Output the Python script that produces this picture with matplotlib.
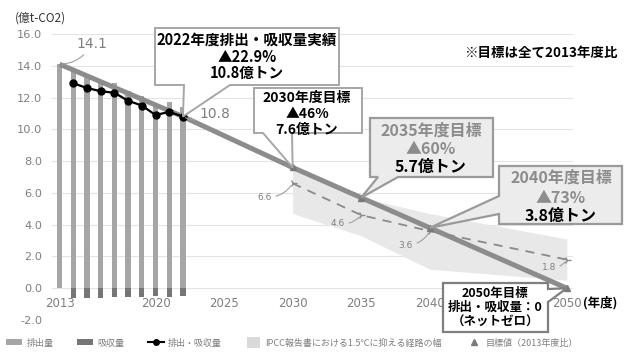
import matplotlib
matplotlib.use('Agg')
import matplotlib.pyplot as plt
import matplotlib.patches as mpatches
from matplotlib.lines import Line2D
from matplotlib.legend_handler import HandlerPatch

JP = ['Noto Sans CJK JP', 'DejaVu Sans']
W, H = 632, 358

# ---- data ----
years = [2013, 2014, 2015, 2016, 2017, 2018, 2019, 2020, 2021, 2022]
emissions = [14.1, 13.6, 13.3, 13.0, 12.9, 12.4, 12.1, 11.5, 11.7, 11.4]
removal_years = [2014, 2015, 2016, 2017, 2018, 2019, 2020, 2021, 2022]
removals = [-0.62, -0.61, -0.60, -0.58, -0.56, -0.56, -0.52, -0.54, -0.50]
net = [12.9, 12.6, 12.4, 12.3, 11.8, 11.5, 10.9, 11.1, 10.8]

path_years = [2013, 2022, 2030, 2035, 2040, 2050]
path_values = [14.1, 10.8, 7.6, 5.7, 3.8, 0.0]
target_years = [2030, 2035, 2040, 2050]
target_values = [7.6, 5.7, 3.8, 0.0]

ipcc_years = [2030, 2035, 2040, 2050]
ipcc_upper = [7.6, 5.7, 4.7, 3.1]
ipcc_lower = [4.7, 3.3, 1.2, 0.5]
ipcc_mid = [6.6, 4.6, 3.6, 1.8]

xticks = [2013, 2020, 2025, 2030, 2035, 2040, 2050]
yticks = [-2, 0, 2, 4, 6, 8, 10, 12, 14, 16]

c_emis = '#a6a6a6'
c_rem = '#767676'
c_path = '#8c8c8c'
c_band = '#e8e8e8'
c_txt = '#7f7f7f'

fig = plt.figure(figsize=(6.32, 3.58), dpi=100)
ax = fig.add_axes([52 / W, 38 / H, 521 / W, 286 / H])

ax.fill_between(ipcc_years, ipcc_lower, ipcc_upper, color=c_band, lw=0, zorder=1)
ax.bar(years, emissions, width=0.38, color=c_emis, zorder=2)
ax.bar(removal_years, removals, width=0.38, color=c_rem, zorder=2)
ax.plot(path_years, path_values, color=c_path, lw=3.6, zorder=3, solid_capstyle='butt')
ax.plot(ipcc_years, ipcc_mid, color='#8a8a8a', lw=1.3, ls=(0, (5, 4)), zorder=3,
        marker='4', ms=6, mew=1.0)
ax.plot(target_years, target_values, ls='none', marker='^', color='#7a7a7a', ms=5, zorder=4)
ax.plot(removal_years, net, color='black', lw=1.6, marker='o', ms=5, zorder=5)

ax.set_xlim(2012.45, 2050.45)
ax.set_ylim(-2, 16)
ax.set_xticks(xticks)
ax.set_yticks(yticks)
ax.set_yticklabels(['%.1f' % v for v in yticks])
for s in ['top', 'right', 'left']:
    ax.spines[s].set_visible(False)
ax.spines['bottom'].set_position(('data', 0))
ax.spines['bottom'].set_visible(False)
ax.yaxis.grid(True, color='#e4e4e4', lw=0.8)
ax.set_axisbelow(True)
ax.tick_params(axis='y', length=0, pad=7, labelsize=8.2, labelcolor=c_txt)
ax.tick_params(axis='x', length=0, pad=6, labelsize=8.5, labelcolor=c_txt)

# value labels with leader lines
def leader(txt, xy, pos, size, rad, ha='left'):
    ax.annotate(txt, xy=xy, xytext=(pos[0], H - pos[1]), textcoords='figure pixels',
                ha=ha, va='center', fontsize=size, color=c_txt,
                arrowprops=dict(arrowstyle='-', color='#a0a0a0', lw=0.8,
                                connectionstyle='arc3,rad=%s' % rad, shrinkA=1, shrinkB=2),
                annotation_clip=False, zorder=6)

leader('14.1', (2013, 14.1), (76, 44), 10, -0.3)
leader('10.8', (2022, 10.8), (199, 114), 10, -0.3)
leader('6.6', (2030, 6.6), (272, 197), 6.5, 0.3, ha='right')
leader('4.6', (2035, 4.6), (345, 223), 6.5, 0.3, ha='right')
leader('3.6', (2040, 3.6), (413, 245), 6.5, 0.3, ha='right')
leader('1.8', (2050, 1.8), (556, 268), 6.5, 0.3, ha='right')

# callout boxes (image pixel coords, y down)
def callout(box, side, base, tip, fc, ec, lw, cx, lines, ys, colors, size):
    x0, y0, x1, y1 = box
    tx, ty = ax.transData.transform(tip)
    tip_px = (tx, H - ty)
    tl, tr, br, bl = (x0, y0), (x1, y0), (x1, y1), (x0, y1)
    b1, b2 = base
    if side == 'bottom':
        verts = [tl, tr, br, b2, tip_px, b1, bl]
    elif side == 'left':
        verts = [tl, tr, br, bl, b2, tip_px, b1]
    else:
        verts = [tl, tr, b1, tip_px, b2, br, bl]
    verts = [(x / W, 1 - y / H) for x, y in verts]
    fig.add_artist(mpatches.Polygon(verts, closed=True, fc=fc, ec=ec, lw=lw,
                                    transform=fig.transFigure, zorder=5, joinstyle='miter'))
    for t, y, c in zip(lines, ys, colors):
        fig.text(cx / W, 1 - y / H, t, ha='center', va='center', fontsize=size,
                 fontweight='bold', color=c, family=JP, zorder=6)

callout((155, 28, 339, 85), 'bottom', ((184, 85), (230, 85)), (2022, 10.8),
        'white', '#a6a6a6', 1.4, 247,
        ['2022年度排出・吸収量実績', '▲22.9%', '10.8億トン'], [40, 57, 73],
        ['black'] * 3, 10.5)
callout((254, 88, 362, 133), 'bottom', ((263, 133), (292, 133)), (2030, 7.6),
        'white', '#a6a6a6', 1.4, 307,
        ['2030年度目標', '▲46%', '7.6億トン'], [98, 114, 130],
        ['black'] * 3, 10)
callout((370, 118, 493, 177), 'bottom', ((378, 177), (398, 177)), (2035, 5.7),
        '#ececec', '#9a9a9a', 1.6, 431,
        ['2035年度目標', '▲60%', '5.7億トン'], [131, 149, 167],
        ['#8c8c8c', '#8c8c8c', 'black'], 11.5)
callout((499, 166, 622, 224), 'left', ((499, 196), (499, 214)), (2040, 3.8),
        '#ececec', '#9a9a9a', 1.6, 561,
        ['2040年度目標', '▲73%', '3.8億トン'], [178, 198, 216],
        ['#8c8c8c', '#8c8c8c', 'black'], 11.5)
callout((443, 283, 548, 332), 'right', ((548, 289), (548, 302)), (2050, 0.0),
        'white', '#7f7f7f', 1.6, 495,
        ['2050年目標', '排出・吸収量：0', '（ネットゼロ）'], [293, 307, 322],
        ['black'] * 3, 9)

fig.text(15 / W, 1 - 18 / H, '(億t-CO2)', ha='left', va='center', fontsize=8.5,
         color='#333333', family=JP)
fig.text(541 / W, 1 - 53 / H, '※目標は全て2013年度比', ha='center', va='center',
         fontsize=9.7, fontweight='bold', color='black', family=JP)
fig.text(583 / W, 1 - 303 / H, '(年度)', ha='left', va='center', fontsize=9,
         fontweight='bold', color='black', family=JP)

# legend
def tall_patch(legend, orig_handle, xdescent, ydescent, width, height, fontsize):
    return mpatches.Rectangle((-xdescent + width * 0.1, -ydescent - height * 0.45),
                              width * 0.8, height * 1.9)

ipcc_handle = mpatches.Patch(fc='#d9d9d9')
handles = [mpatches.Patch(fc=c_emis), mpatches.Patch(fc=c_rem),
           Line2D([], [], color='black', lw=1.5, marker='o', ms=4),
           ipcc_handle,
           Line2D([], [], color='#7a7a7a', ls='none', marker='^', ms=4)]
labels = ['排出量', '吸収量', '排出・吸収量', 'IPCC報告書における1.5℃に抑える経路の幅',
          '目標値（2013年度比）']
leg = fig.legend(handles, labels, loc='center left', bbox_to_anchor=(6 / W, 1 - 343 / H),
                 ncol=5, frameon=False, borderpad=0, borderaxespad=0,
                 handlelength=1.8, handleheight=0.6, handletextpad=0.45, columnspacing=2.6,
                 prop={'family': JP, 'size': 6.5},
                 handler_map={ipcc_handle: HandlerPatch(patch_func=tall_patch)})
for t in leg.get_texts():
    t.set_color(c_txt)

fig.savefig('out.png', dpi=100)
